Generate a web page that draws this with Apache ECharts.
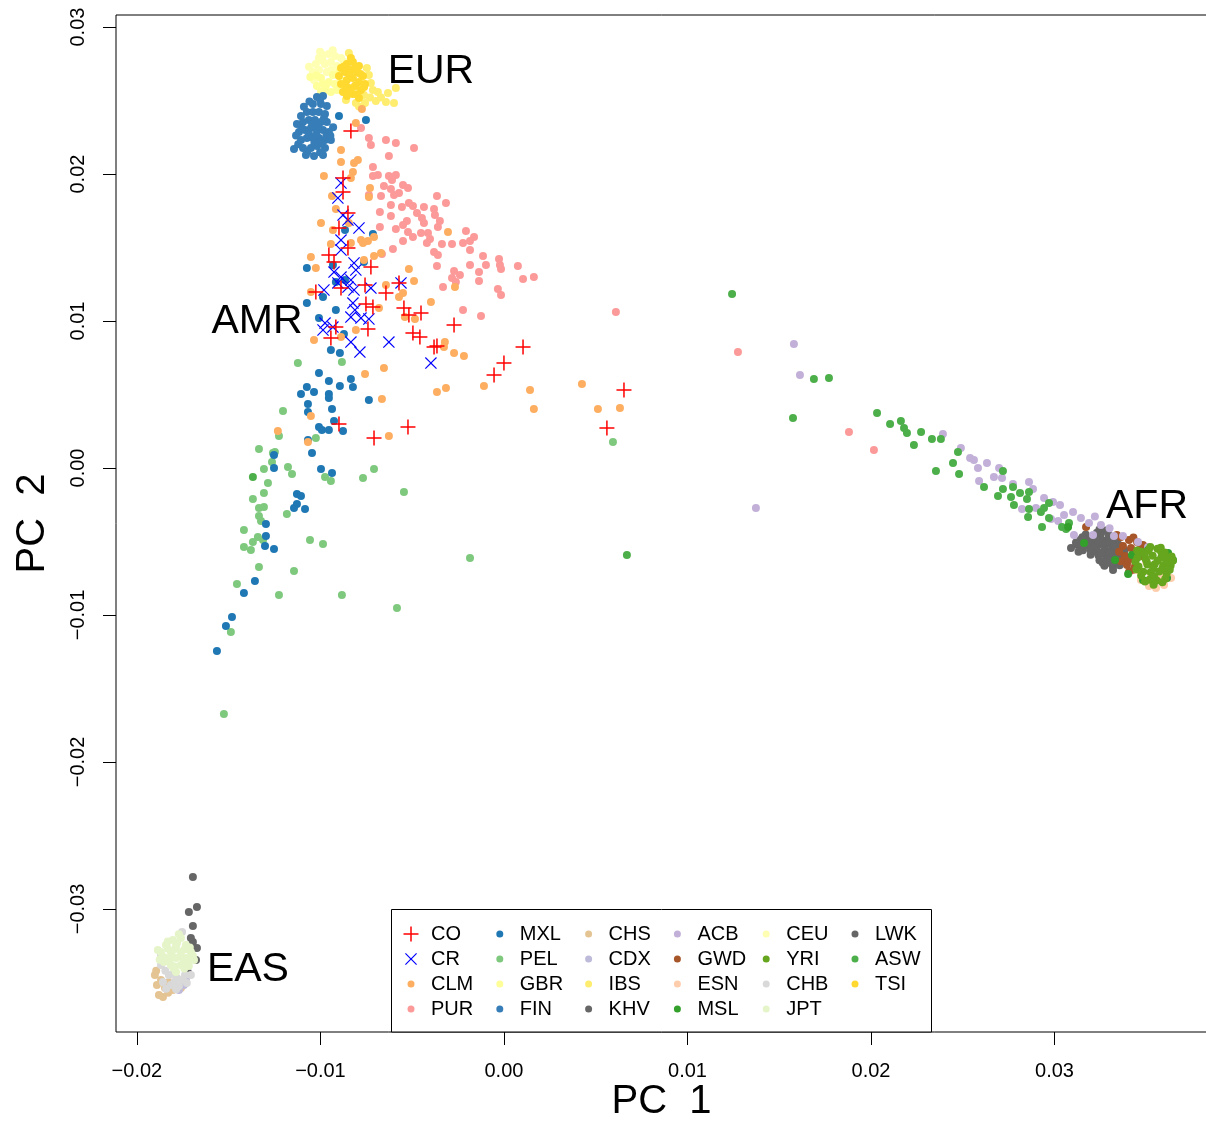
<!DOCTYPE html>
<html>
<head>
<meta charset="utf-8">
<script src="https://cdn.jsdelivr.net/npm/echarts@6/dist/echarts.min.js"></script>
<style>
  html, body { margin: 0; padding: 0; background: #fff; }
  #main { width: 1206px; height: 1125px; }
</style>
</head>
<body>
<div id="main"></div>
<script>
// PCA scores, both axes in units of 1e-3 (PC 1, PC 2)
const CO = [[-8.34,22.93],[-8.77,19.73],[-8.77,18.78],[-8.50,17.35],[-8.99,16.33],[-9.54,14.49],[-9.26,14.01],[-8.50,14.97],[-7.25,13.67],[-10.25,11.97],[-8.88,12.24],[-7.57,12.45],[-6.43,11.90],[-5.72,12.59],[-7.52,11.16],[-7.14,10.95],[-5.45,10.88],[-5.18,10.41],[-4.52,10.54],[-9.16,9.59],[-9.43,8.84],[-7.41,9.46],[-4.96,9.18],[-4.58,8.91],[-3.81,8.23],[-3.65,8.30],[-2.72,9.73],[1.04,8.23],[0.00,7.14],[-0.54,6.33],[-8.99,2.99],[-7.08,2.04],[-5.23,2.79],[6.54,5.31],[5.61,2.72]];
const CR = [[-8.88,19.39],[-9.05,18.37],[-8.77,17.21],[-8.50,16.87],[-7.90,16.33],[-8.88,15.51],[-8.88,14.83],[-8.17,13.95],[-9.26,13.33],[-8.88,12.99],[-8.34,12.79],[-8.07,13.47],[-9.05,12.59],[-8.50,12.31],[-9.81,12.11],[-8.17,12.11],[-7.25,12.24],[-5.61,12.59],[-8.23,11.22],[-8.12,10.75],[-8.34,10.27],[-7.79,10.20],[-7.36,10.14],[-9.75,9.86],[-9.32,9.59],[-9.86,9.39],[-8.34,8.57],[-7.85,7.89],[-6.27,8.57],[-3.98,7.14]];
const CLM = [[-7.74,24.42],[-8.07,23.47],[-8.88,21.63],[-8.88,20.82],[-8.17,20.75],[-7.96,20.95],[-8.23,20.14],[-8.34,19.73],[-9.81,19.86],[-7.30,19.05],[-9.37,18.50],[-7.36,18.44],[-9.16,17.62],[-8.45,16.67],[-9.97,16.67],[-9.32,16.19],[-7.79,15.51],[-7.41,15.44],[-7.08,15.71],[-3.05,16.05],[-7.68,15.30],[-7.08,14.42],[-6.70,14.63],[-5.18,13.54],[-4.90,12.72],[-2.67,12.31],[-6.43,12.45],[-5.50,11.90],[-5.72,11.63],[-10.52,14.35],[-10.25,13.61],[-9.43,15.24],[-8.34,15.31],[-7.63,14.15],[-10.52,11.97],[-10.35,8.71],[-8.88,8.91],[-8.07,9.39],[-3.98,11.29],[-6.81,10.88],[-3.22,8.57],[-3.27,8.23],[-2.72,7.82],[-2.18,7.62],[-6.54,6.80],[-7.57,6.39],[-1.09,5.58],[-3.16,5.44],[-3.65,5.17],[1.42,5.31],[1.63,4.01],[-6.65,4.69],[-6.27,2.18],[-12.32,2.52],[-10.52,3.54],[-10.68,1.77],[4.25,5.71],[5.12,4.01],[6.32,4.08],[-5.40,10.27],[-4.85,10.14]];
const PUR = [[-7.79,23.13],[-7.36,22.45],[-7.25,21.97],[-6.43,22.31],[-5.89,22.11],[-4.90,21.77],[-6.27,21.22],[-7.14,20.48],[-7.14,19.86],[-6.87,19.93],[-6.27,19.86],[-5.89,19.93],[-6.10,19.59],[-6.54,19.18],[-6.16,18.98],[-5.50,19.25],[-5.23,19.05],[-5.72,18.71],[-5.99,18.57],[-6.70,18.50],[-7.36,18.57],[-3.65,18.50],[-3.16,18.03],[-5.18,18.03],[-4.96,17.82],[-6.16,17.89],[-5.56,17.76],[-6.76,17.41],[-6.16,17.14],[-4.74,17.35],[-4.36,17.76],[-3.81,17.62],[-4.47,17.01],[-4.36,16.67],[-3.76,17.21],[-3.49,16.80],[-3.60,16.39],[-5.29,16.80],[-5.50,16.53],[-5.89,16.26],[-6.76,16.39],[-5.23,16.05],[-4.96,15.71],[-4.52,15.99],[-4.14,15.99],[-5.50,15.44],[-4.03,15.58],[-4.20,15.31],[-3.38,15.24],[-2.83,15.24],[-2.07,16.12],[-1.63,15.71],[-1.85,15.44],[-2.23,15.31],[-1.85,14.83],[-6.05,14.90],[-6.65,14.56],[-3.81,14.69],[-3.60,14.49],[-1.14,14.42],[-0.98,13.81],[-0.27,14.22],[-0.22,13.81],[-0.16,13.54],[0.76,13.74],[-1.85,13.81],[-3.65,13.74],[-2.72,13.40],[-2.40,13.13],[-2.83,12.93],[-2.62,12.65],[-1.36,13.33],[-1.36,12.72],[-0.33,12.18],[-0.16,11.77],[1.04,12.86],[1.63,12.99],[-3.32,12.31],[-2.23,10.75],[-1.25,10.34],[6.10,10.61],[12.75,7.89],[18.80,2.45],[20.16,1.22]];
const MXL = [[-8.99,23.95],[-7.52,23.67],[-7.14,15.92],[-8.66,16.19],[-10.74,13.61],[-7.63,14.01],[-9.32,13.81],[-8.66,12.79],[-9.16,12.65],[-10.74,11.22],[-9.86,11.63],[-9.16,10.75],[-10.08,10.20],[-8.72,9.12],[-9.43,8.03],[-8.94,7.82],[-10.08,6.46],[-9.54,5.92],[-8.34,6.05],[-8.23,5.51],[-10.74,5.51],[-10.35,5.17],[-11.06,5.03],[-9.54,5.03],[-9.54,4.76],[-8.94,5.58],[-7.36,4.63],[-10.68,4.35],[-10.68,3.81],[-9.37,4.01],[-9.26,3.20],[-10.08,2.79],[-9.92,2.59],[-9.54,2.59],[-8.77,2.52],[-10.68,1.90],[-10.46,1.02],[-12.53,0.88],[-12.53,0.00],[-9.97,-0.07],[-9.37,-0.34],[-11.28,-1.77],[-11.06,-1.90],[-11.28,-2.45],[-11.44,-2.72],[-10.84,-2.79],[-12.97,-3.81],[-12.97,-4.63],[-13.02,-5.31],[-12.53,-5.51],[-13.57,-7.69],[-14.17,-8.50],[-14.82,-10.14],[-15.15,-10.75],[-15.64,-12.45]];
const PEL = [[-11.23,7.14],[-8.83,7.21],[-12.04,3.88],[-12.26,2.18],[-10.25,2.04],[-13.35,1.29],[-12.59,1.02],[-12.48,1.09],[-12.64,0.41],[-13.08,-0.07],[-11.77,0.07],[-11.55,-0.41],[-9.75,-0.61],[-9.43,-0.88],[-7.68,-0.68],[-7.08,-0.07],[-5.45,-1.63],[-12.86,-1.02],[-13.08,-1.70],[-13.68,-2.11],[-13.35,-2.72],[-13.08,-2.65],[-11.83,-3.13],[-13.35,-3.27],[-13.24,-3.61],[-14.17,-4.22],[-13.41,-4.69],[-13.68,-5.03],[-13.13,-4.90],[-14.17,-5.37],[-13.79,-5.58],[-10.57,-4.90],[-9.86,-5.17],[-13.35,-6.73],[-11.44,-7.01],[-14.55,-7.89],[-12.26,-8.64],[-8.83,-8.64],[-5.83,-9.52],[-14.88,-11.16],[-1.85,-6.12],[5.94,1.77],[-15.26,-16.73]];
const GBR = [[-9.97,26.53],[-9.32,26.73],[-8.99,26.94],[-10.19,25.99],[-9.86,26.12],[-9.54,26.26],[-9.21,26.12],[-8.88,26.39],[-9.75,25.71],[-9.43,25.58],[-9.10,25.71],[-8.77,25.85],[-9.97,25.58],[-9.70,26.02],[-10.22,26.70],[-10.55,26.60]];
const FIN = [[-10.19,25.24],[-9.86,25.31],[-10.41,24.76],[-9.97,24.76],[-9.65,24.63],[-11.06,23.95],[-10.74,24.22],[-10.41,24.22],[-10.08,24.22],[-9.75,24.08],[-11.28,23.40],[-10.95,23.54],[-10.63,23.67],[-10.30,23.67],[-9.97,23.54],[-9.65,23.54],[-11.17,22.86],[-10.84,22.99],[-10.52,23.13],[-10.19,22.99],[-9.86,22.99],[-9.54,22.86],[-11.06,22.31],[-10.74,22.45],[-10.41,22.45],[-10.08,22.45],[-9.75,22.31],[-9.43,22.31],[-10.95,21.77],[-10.52,21.77],[-10.19,21.90],[-9.75,21.77],[-11.44,21.70],[-10.79,21.29],[-10.35,21.22],[-9.86,21.29],[-10.90,24.58],[-10.60,24.93],[-11.02,23.12],[-10.45,23.35],[-10.12,23.31],[-9.81,23.80],[-11.33,22.62],[-10.62,22.71],[-10.22,22.68],[-9.68,22.58],[-11.21,22.03],[-10.33,22.12],[-9.92,22.07],[-10.71,21.52],[-10.02,21.48],[-9.31,23.18],[-9.46,22.61],[-10.02,25.05]];
const CHS = [[-19.02,-34.49],[-18.69,-34.83],[-18.91,-35.17],[-18.47,-35.37],[-18.04,-35.51],[-17.60,-35.37],[-18.80,-35.85],[-18.58,-35.99],[-18.26,-34.97],[-18.95,-34.20],[-18.30,-35.70]];
const CDX = [[-17.33,-34.83],[-17.22,-34.29],[-17.44,-35.17],[-17.71,-35.51]];
const IBS = [[-8.45,28.23],[-7.36,26.73],[-7.25,26.19],[-6.87,25.58],[-6.32,25.51],[-5.89,25.85],[-5.99,24.83],[-6.43,24.90],[-6.98,24.97],[-7.63,25.37],[-8.07,24.83],[-7.47,27.21],[-7.14,25.71],[-8.61,25.03],[-7.57,24.83],[-7.30,25.20],[-6.70,25.20],[-7.90,24.60]];
const KHV = [[-16.95,-27.82],[-17.17,-30.20],[-16.73,-29.86],[-16.95,-31.16],[-16.95,-32.24],[-16.73,-32.65],[-16.78,-33.47],[-17.22,-34.35],[-17.06,-31.97]];
const ACB = [[15.80,8.44],[16.13,6.33],[13.73,-2.72],[23.92,2.31],[24.90,1.36],[25.40,0.68],[25.61,0.54],[26.32,0.34],[25.83,0.00],[26.98,0.00],[26.70,-0.61],[27.14,-0.68],[25.89,-0.88],[27.74,-1.09],[28.61,-0.95],[28.83,-1.43],[29.43,-2.04],[29.92,-2.31],[30.30,-2.52],[28.23,-2.79],[28.99,-2.72],[29.81,-3.47],[30.52,-3.20],[31.01,-2.99],[31.44,-3.40],[31.06,-4.56],[31.88,-3.74],[32.53,-3.88],[33.24,-4.63],[33.73,-4.63],[34.55,-5.03],[32.10,-4.56],[35.10,-5.37],[35.97,-5.78],[30.20,-3.60],[32.20,-3.30],[33.00,-4.10]];
const GWD = [[31.72,-4.01],[33.62,-4.69],[34.06,-4.90],[34.50,-5.03],[33.73,-5.31],[34.17,-5.44],[34.60,-5.58],[34.99,-5.37],[33.84,-5.99],[34.28,-6.12],[34.71,-5.99],[33.95,-6.60],[34.39,-6.67],[34.06,-7.07],[34.82,-5.24],[33.40,-4.55],[34.30,-4.72],[33.52,-5.70],[34.42,-5.72],[33.62,-6.35],[34.31,-6.92],[34.02,-6.30]];
const ESN = [[34.71,-7.62],[35.15,-8.03],[35.53,-8.16],[35.97,-7.96],[34.50,-6.94],[36.35,-7.48],[34.99,-6.39],[35.80,-7.28],[35.26,-7.28]];
const MSL = [[30.74,-4.01],[31.61,-5.10],[33.30,-6.26],[34.01,-7.21],[34.22,-5.92],[35.10,-5.58],[36.19,-5.78],[36.24,-6.46],[36.13,-7.48],[34.82,-7.62],[36.46,-6.26]];
const CEU = [[-10.41,26.94],[-10.25,27.48],[-10.08,27.89],[-9.86,28.10],[-9.54,28.16],[-9.21,28.03],[-8.88,27.89],[-10.35,26.39],[-10.08,27.07],[-9.75,27.48],[-9.43,27.62],[-9.10,27.35],[-9.65,26.94],[-10.62,27.30],[-10.02,28.32],[-9.33,28.42],[-9.42,27.08],[-9.88,27.70],[-10.20,26.66],[-8.72,27.62]];
const YRI = [[34.73,-5.69],[35.13,-5.60],[35.61,-5.49],[36.00,-5.74],[34.52,-6.10],[34.95,-6.15],[35.35,-5.97],[35.82,-6.08],[36.22,-6.10],[34.58,-6.70],[35.06,-6.57],[35.46,-6.55],[35.93,-6.62],[36.33,-6.64],[34.84,-7.05],[35.24,-7.10],[35.71,-7.04],[36.11,-7.17],[35.17,-7.60],[35.57,-7.65],[36.04,-7.53],[35.40,-7.94],[34.41,-6.37],[35.02,-6.35],[35.62,-6.31],[36.12,-6.36],[35.38,-6.86],[35.88,-6.84],[34.92,-5.88],[35.81,-5.69],[35.43,-7.36],[36.28,-6.93],[34.72,-7.31],[34.51,-5.62],[36.38,-6.02],[36.45,-6.31],[35.88,-7.78],[34.93,-7.72],[34.46,-6.88],[35.22,-5.38],[35.79,-5.42]];
const CHB = [[-18.69,-33.81],[-18.26,-34.49],[-17.82,-34.69],[-17.38,-34.49],[-18.58,-34.97],[-18.15,-35.17],[-17.71,-35.24],[-17.28,-35.03],[-17.06,-34.49],[-17.54,-31.56],[-18.69,-33.13],[-17.95,-34.95],[-18.45,-34.20],[-18.02,-34.42],[-17.52,-34.82],[-18.41,-35.42],[-17.86,-35.46]];
const JPT = [[-18.04,-32.11],[-17.60,-31.97],[-18.42,-32.45],[-17.87,-32.52],[-17.33,-32.45],[-18.69,-32.93],[-18.15,-32.93],[-17.60,-32.93],[-17.06,-32.93],[-18.42,-33.33],[-17.87,-33.33],[-17.33,-33.33],[-16.89,-33.47],[-18.15,-33.81],[-17.60,-33.81],[-17.17,-33.88],[-17.87,-34.29],[-18.53,-33.61],[-18.86,-32.79],[-17.92,-32.72],[-17.41,-32.76],[-18.31,-32.70],[-18.21,-33.42],[-17.62,-33.22],[-17.22,-33.52],[-17.93,-33.91],[-18.61,-33.22],[-17.72,-31.72],[-18.32,-32.21],[-17.12,-32.62],[-16.95,-33.18],[-18.01,-34.02],[-17.42,-34.05],[-18.76,-33.45],[-17.81,-32.30],[-18.10,-33.16],[-17.46,-33.60]];
const LWK = [[32.45,-4.18],[32.80,-4.25],[31.70,-4.52],[32.12,-4.60],[32.50,-4.55],[32.95,-4.62],[31.42,-4.88],[31.85,-4.95],[32.20,-4.86],[32.62,-4.93],[33.00,-4.88],[33.38,-4.96],[31.20,-5.22],[31.63,-5.28],[32.02,-5.20],[32.35,-5.27],[32.78,-5.21],[33.15,-5.30],[33.50,-5.22],[31.55,-5.60],[31.95,-5.55],[32.30,-5.62],[32.72,-5.56],[33.06,-5.63],[33.44,-5.57],[33.82,-5.60],[31.97,-5.90],[32.40,-5.95],[32.76,-5.88],[33.15,-5.96],[33.52,-5.90],[32.45,-6.28],[32.83,-6.22],[33.20,-6.30],[32.72,-6.65],[33.18,-6.70],[33.55,-6.62],[33.19,-6.94],[30.90,-5.44],[31.17,-5.06],[31.81,-5.05],[32.42,-5.08],[32.91,-5.04],[33.31,-5.41],[32.55,-5.78],[32.12,-5.40],[31.42,-5.38],[33.02,-6.11],[32.62,-6.45],[33.42,-6.31],[32.91,-4.40],[33.71,-5.92],[31.52,-4.71],[32.31,-4.41],[33.62,-5.31],[33.33,-6.02],[32.02,-5.75],[31.31,-5.70],[32.85,-6.46],[33.80,-6.21],[32.61,-5.12],[33.01,-5.76]];
const ASW = [[12.43,11.84],[16.89,6.05],[17.71,6.12],[15.75,3.40],[20.33,3.74],[21.04,2.99],[21.63,3.20],[21.80,2.72],[21.96,2.38],[22.73,2.45],[22.34,1.56],[23.32,1.97],[23.81,1.97],[24.74,1.09],[24.47,0.34],[24.80,-0.41],[23.54,-0.20],[26.16,-1.29],[27.19,-0.20],[27.19,-1.43],[26.92,-1.90],[27.74,-1.29],[27.63,-1.97],[28.12,-1.70],[27.79,-2.52],[28.61,-1.63],[28.50,-2.11],[28.61,-2.79],[28.56,-3.33],[29.26,-2.99],[29.43,-2.72],[29.70,-2.38],[29.70,-3.40],[29.32,-4.01],[30.41,-4.01],[30.63,-4.15],[30.79,-3.74],[6.70,-5.92],[-13.68,-0.61]];
const TSI = [[-8.88,27.21],[-8.56,27.48],[-8.23,27.62],[-7.90,27.35],[-8.99,26.67],[-8.66,26.94],[-8.34,27.07],[-8.01,26.94],[-7.68,26.67],[-8.88,26.12],[-8.56,26.39],[-8.23,26.53],[-7.90,26.26],[-7.57,26.12],[-8.77,25.58],[-8.45,25.85],[-8.12,25.99],[-7.79,25.71],[-8.56,25.31],[-8.23,25.44],[-7.90,25.17],[-8.34,27.89],[-8.62,26.02],[-8.08,26.03],[-8.41,26.72],[-8.10,27.22],[-8.72,27.31],[-7.82,26.81],[-8.38,25.62],[-8.02,25.42],[-7.62,25.92]];

const regionNames = ["EUR", "AMR", "AFR", "EAS"];
const regionCentres = [[-3.98, 26.94], [-13.46, 9.93], [35.04, -2.65], [-13.95, -34.15]];

const xTicks = [-20, -10, 0, 10, 20, 30];
const yTicks = [-30, -20, -10, 0, 10, 20, 30];

// legend is laid out column by column, as in the original
const legendColumns = [
  ["CO", "CR", "CLM", "PUR"],
  ["MXL", "PEL", "GBR", "FIN"],
  ["CHS", "CDX", "IBS", "KHV"],
  ["ACB", "GWD", "ESN", "MSL"],
  ["CEU", "YRI", "CHB", "JPT"],
  ["LWK", "ASW", "TSI"],
];

const populations = { CO, CR, CLM, PUR, MXL, PEL, GBR, FIN, CHS, CDX, IBS, KHV,
  ACB, GWD, ESN, MSL, CEU, YRI, CHB, JPT, LWK, ASW, TSI };

const PLUS = "path://M9,0H11V9H20V11H11V20H9V11H0V9H9Z";
const CROSS = "path://M1.4,0L10,8.6L18.6,0L20,1.4L11.4,10L20,18.6L18.6,20L10,11.4L1.4,20L0,18.6L8.6,10L0,1.4Z";
const FONT = "'Liberation Sans', Arial, Helvetica, sans-serif";
const DOT = 8;

const colors = {
  CO: "#ff0000", CR: "#0000ff", CLM: "#fdae61", PUR: "#fb9a99",
  MXL: "#1f78b4", PEL: "#7fc97f", GBR: "#ffff99", FIN: "#377eb8",
  CHS: "#e5c494", CDX: "#bebada", IBS: "#ffed6f", KHV: "#666666",
  ACB: "#c2b0d8", GWD: "#a65628", ESN: "#fdcdac", MSL: "#33a02c",
  CEU: "#ffffb3", YRI: "#66a61e", CHB: "#d9d9d9", JPT: "#e6f5c9",
  LWK: "#666666", ASW: "#4daf4a", TSI: "#ffd92f",
};
const symbols = { CO: [PLUS, 15], CR: [CROSS, 12] };

// later entries are painted on top
const drawOrder = ["CHS", "CDX", "KHV", "CHB", "JPT", "LWK", "GWD", "ESN", "ACB",
  "ASW", "MSL", "YRI", "CEU", "GBR", "IBS", "TSI", "FIN", "PUR", "PEL", "MXL",
  "CLM", "CR", "CO"];

function tickText(v) {
  const s = (v / 1000).toFixed(2);
  return v < 0 ? "\u2212" + s.slice(1) : s;
}

const series = drawOrder.map(function (name) {
  const sym = symbols[name] || ["circle", DOT];
  return {
    type: "scatter",
    name: name,
    data: populations[name],
    symbol: sym[0],
    symbolSize: sym[1],
    itemStyle: { color: colors[name], opacity: 1 },
    emphasis: { disabled: true },
    silent: true,
  };
});

series.push({
  type: "scatter",
  name: "regions",
  data: regionCentres.map(function (c, i) {
    return { value: c, name: regionNames[i] };
  }),
  symbolSize: 1,
  itemStyle: { color: "rgba(255,255,255,0)" },
  label: {
    show: true,
    position: "inside",
    formatter: "{b}",
    fontSize: 41,
    fontFamily: FONT,
    color: "#000000",
    opacity: 1,
    textBorderWidth: 0,
    textShadowBlur: 0,
  },
  emphasis: { disabled: true },
  silent: true,
  z: 5,
});

// one legend component per entry so the grid matches the original box
const legends = [];
legendColumns.forEach(function (col, c) {
  col.forEach(function (name, r) {
    const markerX = 411 + c * 88.8;
    const rowY = 934 + r * 25;
    const size = symbols[name] ? symbols[name][1] : 7;
    legends.push({
      data: [name],
      orient: "vertical",
      // the component box starts at the drawn icon, not at the item box
      left: markerX - size / 2,
      top: rowY - 12.5,
      padding: 0,
      itemWidth: 30,
      itemHeight: size,
      selectedMode: false,
      textStyle: { fontSize: 20, fontFamily: FONT, color: "#000", lineHeight: 25 },
    });
  });
});

const axisFont = { fontSize: 20, fontFamily: FONT, color: "#000" };

const option = {
  animation: false,
  backgroundColor: "#fff",
  grid: {
    left: 116, right: -1, top: 15, bottom: 93,
    show: true, borderColor: "#000", borderWidth: 1,
    backgroundColor: "transparent",
    containLabel: false,
    outerBoundsMode: "none",
  },
  xAxis: {
    type: "value",
    min: -21.14,
    max: 38.31,
    axisLine: { show: false, onZero: false },
    axisTick: { show: true, inside: false, length: 13, customValues: xTicks,
      lineStyle: { color: "#000", width: 1 } },
    axisLabel: Object.assign({ customValues: xTicks, formatter: tickText, margin: 29 }, axisFont),
    splitLine: { show: false },
    name: "PC  1",
    nameLocation: "middle",
    nameGap: 50,
    nameMoveOverlap: false,
    nameTextStyle: { fontSize: 40, fontFamily: FONT, color: "#000" },
  },
  yAxis: {
    type: "value",
    min: -38.37,
    max: 30.82,
    axisLine: { show: false, onZero: false },
    axisTick: { show: true, inside: false, length: 13, customValues: yTicks,
      lineStyle: { color: "#000", width: 1 } },
    axisLabel: Object.assign({ customValues: yTicks, formatter: tickText, margin: 28, rotate: 90 }, axisFont),
    splitLine: { show: false },
    name: "PC  2",
    nameLocation: "middle",
    nameGap: 63,
    nameMoveOverlap: false,
    nameTextStyle: { fontSize: 40, fontFamily: FONT, color: "#000" },
  },
  legend: legends,
  graphic: [{
    type: "rect",
    z: 3,
    shape: { x: 391.5, y: 909.5, width: 540, height: 122.5 },
    style: { fill: "#fff", stroke: "#000", lineWidth: 1 },
    silent: true,
  }],
  series: series,
};

const myChart = echarts.init(document.getElementById("main"), null, { renderer: "canvas" });
myChart.setOption(option);
</script>
</body>
</html>
